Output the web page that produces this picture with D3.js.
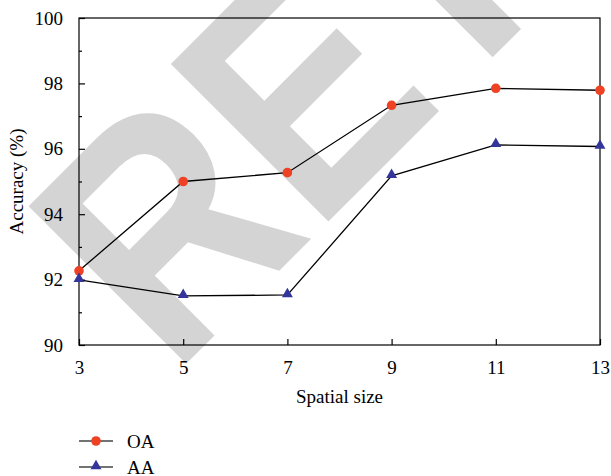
<!DOCTYPE html>
<html>
<head>
<meta charset="utf-8">
<script src="https://cdn.jsdelivr.net/npm/d3@7"></script>
<style>
  html, body { margin: 0; padding: 0; background: #fff; }
  svg { display: block; }
  text { font-family: "Liberation Serif", "Times New Roman", serif; }
</style>
</head>
<body>
<svg id="chart" width="611" height="476"></svg>
<script>
const spatialSizes = [3, 5, 7, 9, 11, 13];
const oaValues = [92.27, 95.0, 95.27, 97.33, 97.85, 97.79];
const aaValues = [91.99, 91.5, 91.53, 95.17, 96.12, 96.07];
const seriesNames = ["OA", "AA"];
const yTickValues = [90, 92, 94, 96, 98, 100];
const yMinorTicks = [91, 93, 95, 97, 99];
const xTickValues = [3, 5, 7, 9, 11, 13];
const xTitle = "Spatial size";
const yTitle = "Accuracy (%)";
const watermark = "RETRACTED";

const svg = d3.select("#chart");
const plot = { left: 79, right: 600, top: 18, bottom: 345 };

// Watermark behind chart
svg.append("text")
  .attr("transform", "translate(173,377) rotate(-45) scale(0.86,1)")
  .attr("font-weight", "bold")
  .attr("font-size", 324)
  .attr("fill", "#d4d4d4")
  .style("font-family", "'Liberation Sans', Arial, sans-serif")
  .text(watermark);

const x = d3.scaleLinear().domain([3, 13]).range([plot.left, plot.right]);
const y = d3.scaleLinear().domain([90, 100]).range([plot.bottom, plot.top]);

// Frame
svg.append("rect")
  .attr("x", plot.left).attr("y", plot.top)
  .attr("width", plot.right - plot.left).attr("height", plot.bottom - plot.top)
  .attr("fill", "none").attr("stroke", "#000").attr("stroke-width", 1.2);

// Y axis
const yAxis = d3.axisLeft(y).tickValues(yTickValues).tickSize(-6).tickPadding(16).tickFormat(d3.format("d"));
const gy = svg.append("g").attr("transform", `translate(${plot.left},0)`).call(yAxis);
gy.select(".domain").remove();
gy.selectAll("line").attr("stroke", "#000").attr("stroke-width", 1.2);
gy.selectAll("text").attr("font-size", 19).attr("fill", "#000")
  .style("font-family", "'Liberation Serif', serif");
const yMinor = d3.axisLeft(y).tickValues(yMinorTicks).tickSize(-3).tickFormat("");
const gym = svg.append("g").attr("transform", `translate(${plot.left},0)`).call(yMinor);
gym.select(".domain").remove();
gym.selectAll("line").attr("stroke", "#000").attr("stroke-width", 1.2);

// X axis
const xAxis = d3.axisBottom(x).tickValues(xTickValues).tickSize(-6).tickPadding(16).tickFormat(d3.format("d"));
const gx = svg.append("g").attr("transform", `translate(0,${plot.bottom})`).call(xAxis);
gx.select(".domain").remove();
gx.selectAll("line").attr("stroke", "#000").attr("stroke-width", 1.2);
gx.selectAll("text").attr("font-size", 19).attr("fill", "#000")
  .style("font-family", "'Liberation Serif', serif");

// Titles
svg.append("text")
  .attr("x", (plot.left + plot.right) / 2).attr("y", 403)
  .attr("text-anchor", "middle").attr("font-size", 19).text(xTitle);
svg.append("text")
  .attr("transform", `translate(23,${(plot.top + plot.bottom) / 2}) rotate(-90)`)
  .attr("text-anchor", "middle").attr("font-size", 19).text(yTitle);

// Lines
const lineGen = d3.line().x(d => x(d[0])).y(d => y(d[1]));
const oaData = spatialSizes.map((s, i) => [s, oaValues[i]]);
const aaData = spatialSizes.map((s, i) => [s, aaValues[i]]);
const oaColor = "#ef4123";
const aaColor = "#34359a";

svg.append("path").datum(oaData).attr("d", lineGen)
  .attr("fill", "none").attr("stroke", "#000").attr("stroke-width", 1.3);
svg.append("path").datum(aaData).attr("d", lineGen)
  .attr("fill", "none").attr("stroke", "#000").attr("stroke-width", 1.3);

const tri = d3.symbol().type(d3.symbolTriangle).size(52);

svg.append("g").selectAll("circle").data(oaData).join("circle")
  .attr("cx", d => x(d[0])).attr("cy", d => y(d[1])).attr("r", 4.8)
  .attr("fill", oaColor);
svg.append("g").selectAll("path").data(aaData).join("path")
  .attr("d", tri)
  .attr("transform", d => `translate(${x(d[0])},${y(d[1]) - 1})`)
  .attr("fill", aaColor);

// Legend
const legend = svg.append("g");
const legY = [441, 467];
seriesNames.forEach((name, i) => {
  const g = legend.append("g").attr("transform", `translate(0,${legY[i]})`);
  g.append("line").attr("x1", 79).attr("x2", 113).attr("y1", 0).attr("y2", 0)
    .attr("stroke", "#444").attr("stroke-width", 1.5);
  if (i === 0) {
    g.append("circle").attr("cx", 96).attr("cy", 0).attr("r", 4.8).attr("fill", oaColor);
  } else {
    g.append("path").attr("d", tri).attr("transform", "translate(96,-1)").attr("fill", aaColor);
  }
  g.append("text").attr("x", 127).attr("y", 6.5).attr("font-size", 19).text(name);
});
</script>
</body>
</html>
